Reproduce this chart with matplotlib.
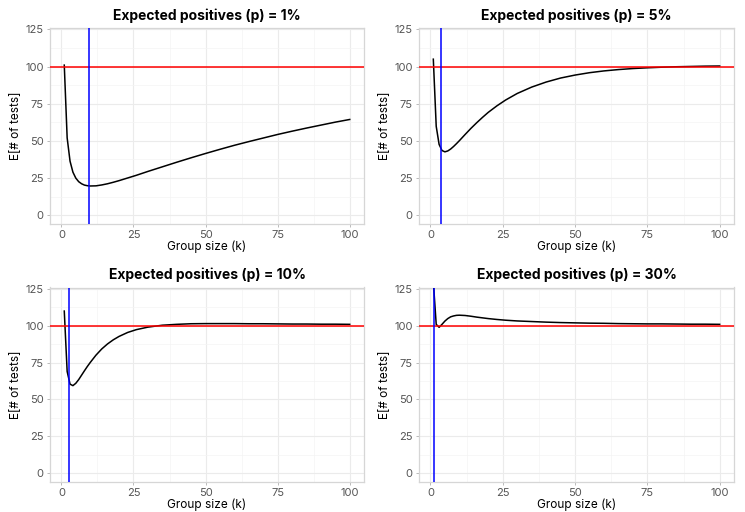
import matplotlib
matplotlib.use("Agg")
import matplotlib.pyplot as plt
from matplotlib.ticker import MultipleLocator

plt.rcParams['font.family'] = ['Inter', 'DejaVu Sans']

# Group sizes at which the curves were read
k_values = [1, 2, 3, 4, 5, 6, 7, 8, 9, 10, 12, 14, 16, 18, 20, 23, 26, 30, 35, 40,
            45, 50, 55, 60, 65, 70, 75, 80, 85, 90, 95, 100]

# Expected number of tests (per 100 people)
tests_p01 = [101.0, 52.0, 36.3, 28.9, 24.9, 22.5, 21.1, 20.2, 19.8, 19.6, 19.7, 20.3,
             21.1, 22.1, 23.2, 25.0, 26.8, 29.4, 32.5, 35.6, 38.6, 41.5, 44.3, 47.0,
             49.5, 51.9, 54.3, 56.5, 58.6, 60.6, 62.6, 64.4]
tests_p05 = [105.0, 59.8, 47.6, 43.5, 42.6, 43.2, 44.5, 46.2, 48.1, 50.1, 54.3, 58.4,
             62.2, 65.8, 69.2, 73.6, 77.5, 81.9, 86.2, 89.6, 92.3, 94.3, 95.9, 97.1,
             98.0, 98.7, 99.2, 99.6, 99.9, 100.1, 100.3, 100.4]
tests_p10 = [110.0, 69.0, 60.4, 59.4, 61.0, 63.5, 66.5, 69.5, 72.4, 75.1, 80.1, 84.3,
             87.7, 90.5, 92.8, 95.5, 97.4, 99.1, 100.4, 101.0, 101.4, 101.5, 101.5, 101.5,
             101.4, 101.4, 101.3, 101.2, 101.2, 101.1, 101.1, 101.0]
tests_p30 = [130.0, 101.0, 99.0, 101.0, 103.2, 104.9, 106.1, 106.7, 107.1, 107.2, 107.0, 106.5,
             105.9, 105.4, 104.9, 104.3, 103.8, 103.3, 102.9, 102.5, 102.2, 102.0, 101.8, 101.7,
             101.5, 101.4, 101.3, 101.3, 101.2, 101.1, 101.1, 101.0]

titles = ["Expected positives (p) = 1%", "Expected positives (p) = 5%",
          "Expected positives (p) = 10%", "Expected positives (p) = 30%"]
series = [tests_p01, tests_p05, tests_p10, tests_p30]
best_k = [9.6, 3.8, 2.65, 1.1]          # blue vertical lines
baseline = 100                           # red horizontal line

fig = plt.figure(figsize=(7.45, 5.12), dpi=100)
W, H = 745, 512
boxes = [(50, 28, 364, 224), (419, 28, 734, 224),
         (50, 287.5, 364, 482), (419, 287.5, 734, 482)]

for (x0, y0, x1, y1), title, vals, bk in zip(boxes, titles, series, best_k):
    ax = fig.add_axes([x0 / W, 1 - y1 / H, (x1 - x0) / W, (y1 - y0) / H])
    ax.set_xlim(-3.95, 104.95)
    ax.set_ylim(-6, 126)
    ax.xaxis.set_major_locator(MultipleLocator(25))
    ax.yaxis.set_major_locator(MultipleLocator(25))
    ax.xaxis.set_minor_locator(MultipleLocator(12.5))
    ax.yaxis.set_minor_locator(MultipleLocator(12.5))
    ax.grid(which='major', color='#ebebeb', linewidth=0.8, zorder=0)
    ax.grid(which='minor', color='#f4f4f4', linewidth=0.5, zorder=0)
    ax.set_axisbelow(True)
    for s in ax.spines.values():
        s.set_color('#d6d6d6')
        s.set_linewidth(0.9)
    ax.tick_params(which='major', length=2.5, width=0.6, color='#b0b0b0',
                   labelsize=8, labelcolor='#555555', pad=2)
    ax.tick_params(which='minor', length=0)

    ax.plot(k_values, vals, color='black', linewidth=1.1, zorder=3)
    ax.axhline(baseline, color='red', linewidth=1.1, zorder=4)
    ax.axvline(bk, color='blue', linewidth=1.1, zorder=4)

    ax.set_title(title, fontsize=10, fontweight='bold', pad=6)
    ax.set_xlabel("Group size (k)", fontsize=8.5, labelpad=0)
    ax.set_ylabel("E[# of tests]", fontsize=8.5, labelpad=2)

fig.savefig("out.png", dpi=100, facecolor='white')
